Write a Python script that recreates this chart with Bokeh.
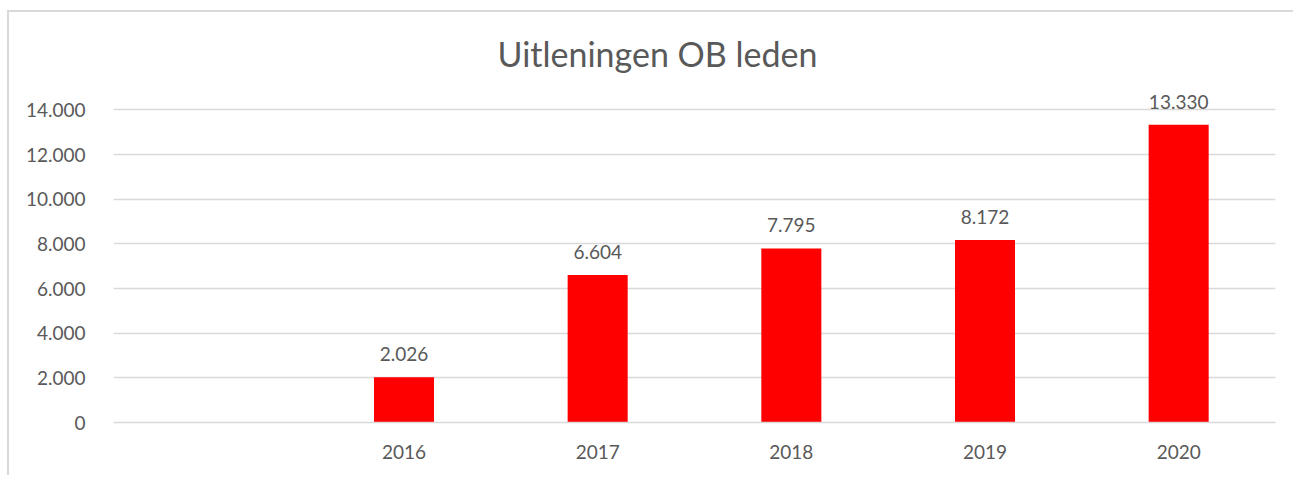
from bokeh.plotting import figure
from bokeh.models import ColumnDataSource, FactorRange, Range1d, CustomJSTickFormatter, FixedTicker
from bokeh.embed import file_html
from bokeh.resources import INLINE

# Data
years = [" ", "2016", "2017", "2018", "2019", "2020"]
bar_years = ["2016", "2017", "2018", "2019", "2020"]
values = [2026, 6604, 7795, 8172, 13330]
y_ticks = [0, 2000, 4000, 6000, 8000, 10000, 12000, 14000]
title_text = "Uitleningen OB leden"

labels = [f"{v:,}".replace(",", ".") for v in values]
src = ColumnDataSource(dict(x=bar_years, y=values, lab=labels))

FONT = "Lato"
TXT = "#595959"
GRID = "#d9d9d9"

p = figure(
    x_range=FactorRange(*years), y_range=Range1d(0, 15000),
    width=1286, height=465, output_backend="svg", toolbar_location=None,
    min_border_left=104, min_border_right=20, min_border_top=75, min_border_bottom=55,
    title=title_text,
)
p.styles = {"border-left": "2px solid #d9d9d9", "border-top": "2px solid #d9d9d9",
            "margin-left": "7px", "margin-top": "10px"}
p.outline_line_color = None

p.title.align = "left"
p.title.text_font = FONT
p.title.text_font_size = "34px"
p.title.text_font_style = "normal"
p.title.text_color = TXT
p.title.standoff = 27
p.title.offset = 384

p.vbar(x="x", top="y", width=0.31, source=src, fill_color="#ff0000", line_color=None)
p.text(x="x", y="y", text="lab", source=src, text_align="center", text_baseline="bottom",
       y_offset=-16, text_font_size="19px", text_color=TXT, text_font={"value": FONT})

p.xgrid.grid_line_color = None
p.ygrid.grid_line_color = GRID
p.ygrid.grid_line_width = 1.5
p.yaxis.ticker = FixedTicker(ticks=y_ticks)
p.yaxis.formatter = CustomJSTickFormatter(code="return tick.toString().replace(/\\B(?=(\\d{3})+(?!\\d))/g, '.');")

for ax in (p.xaxis[0], p.yaxis[0]):
    ax.major_tick_line_color = None
    ax.minor_tick_line_color = None
    ax.major_label_text_font = FONT
    ax.major_label_text_font_size = "19px"
    ax.major_label_text_color = TXT
p.yaxis.axis_line_color = None
p.xaxis.axis_line_color = GRID
p.xaxis.axis_line_width = 1.5
p.yaxis.major_label_standoff = 22
p.xaxis.major_label_standoff = 11

open("out.html", "w").write(file_html(p, INLINE))
